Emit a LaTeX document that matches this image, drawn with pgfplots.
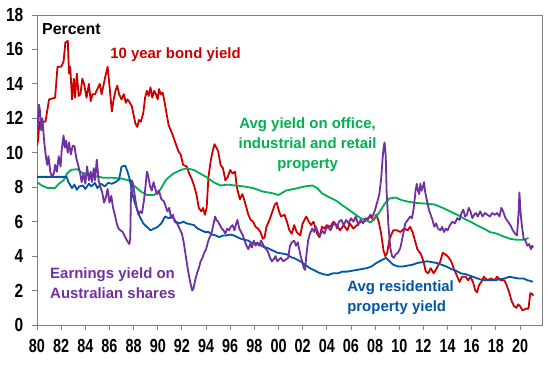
\documentclass[border=0pt]{standalone}
\usepackage{pgfplots}
\pgfplotsset{compat=1.18}
\usepackage{fontspec}
\setmainfont{Liberation Sans}
\definecolor{bondred}{RGB}{204,0,0}
\definecolor{propgreen}{RGB}{0,176,80}
\definecolor{sharepurple}{RGB}{112,48,160}
\definecolor{resblue}{RGB}{0,86,164}
\begin{document}
\begin{tikzpicture}
\begin{axis}[
  scale only axis, width=505bp, height=310bp,
  xmin=1980, xmax=2021.82, ymin=0, ymax=18,
  /pgf/number format/assume math mode=true,
  xtick={1980,1982,...,2020},
  xticklabels={80,82,84,86,88,90,92,94,96,98,00,02,04,06,08,10,12,14,16,18,20},
  ytick={0,2,4,6,8,10,12,14,16,18},
  tick pos=left, tick align=outside, major tick length=5bp,
  axis line style={gray, line width=0.9bp},
  tick style={gray, line width=0.9bp},
  xticklabel style={font=\fontsize{19}{19}\selectfont\bfseries, xscale=0.76, yshift=-6bp},
  yticklabel style={font=\fontsize{19}{19}\selectfont\bfseries, xscale=0.82, xshift=-7bp},
  every axis plot/.append style={line width=1.8bp, line join=round},
  clip=true,
]
% 10 year bond yield
\addplot[bondred] coordinates {
(1980.0,10.4)(1980.1,10.8)(1980.2,11.8)(1980.7,11.8)(1981.0,13.1)(1981.5,13.2)(1981.7,15.0)(1982.0,15.0)
(1982.2,15.3)(1982.35,16.4)(1982.55,16.5)(1982.65,14.6)(1982.75,15.0)(1982.9,13.1)(1983.05,14.3)(1983.15,13.2)
(1983.3,14.6)(1983.45,13.3)(1983.6,13.4)(1983.75,14.3)(1983.9,14.0)(1984.1,13.2)(1984.3,14.0)(1984.45,13.0)
(1984.6,13.4)(1984.8,13.4)(1985.0,13.7)(1985.2,14.0)(1985.35,13.4)(1985.5,13.9)(1985.65,14.4)(1985.85,15.0)
(1986.0,13.9)(1986.2,12.4)(1986.35,13.1)(1986.5,13.6)(1986.65,13.9)(1986.8,13.4)(1987.0,13.1)(1987.2,13.4)
(1987.35,12.9)(1987.5,13.1)(1987.7,12.9)(1987.85,12.7)(1988.0,12.2)(1988.15,11.7)(1988.3,11.5)(1988.45,11.9)
(1988.6,11.8)(1988.8,12.3)(1988.95,13.2)(1989.1,13.6)(1989.25,13.3)(1989.4,13.8)(1989.55,13.2)(1989.7,13.6)
(1989.85,13.4)(1990.0,13.1)(1990.1,13.7)(1990.25,13.4)(1990.4,13.5)(1990.55,13.0)(1990.7,12.4)(1990.9,11.6)
(1991.2,11.1)(1991.4,10.7)(1991.7,10.1)(1991.9,9.9)(1992.1,9.3)(1992.4,9.2)(1992.6,8.8)(1992.8,8.5)
(1993.0,8.1)(1993.2,7.6)(1993.4,6.8)(1993.6,6.6)(1993.75,6.8)(1993.9,6.4)(1994.05,6.8)(1994.2,8.6)
(1994.4,9.6)(1994.55,10.1)(1994.7,10.5)(1994.85,10.3)(1995.0,10.1)(1995.2,9.3)(1995.4,9.1)(1995.6,8.4)
(1995.8,8.6)(1996.0,9.0)(1996.2,8.8)(1996.4,8.9)(1996.55,8.0)(1996.8,7.3)(1997.0,7.6)(1997.15,7.3)
(1997.35,6.8)(1997.5,6.4)(1997.7,6.1)(1997.9,6.0)(1998.1,5.7)(1998.3,5.6)(1998.5,5.4)(1998.7,5.0)
(1998.85,5.1)(1999.0,5.7)(1999.25,6.1)(1999.5,6.6)(1999.7,7.0)(1999.85,7.1)(2000.0,6.7)(2000.2,6.3)
(2000.5,6.4)(2000.7,6.0)(2000.9,5.5)(2001.1,5.3)(2001.3,5.8)(2001.5,5.4)(2001.8,5.2)(2002.0,5.9)
(2002.3,6.3)(2002.5,6.0)(2002.7,5.8)(2002.9,6.0)(2003.2,5.3)(2003.4,5.1)(2003.6,5.7)(2003.8,5.6)
(2004.0,5.8)(2004.3,5.7)(2004.55,6.0)(2004.8,5.8)(2005.1,5.5)(2005.4,5.8)(2005.7,5.5)(2005.9,5.9)
(2006.2,5.6)(2006.5,5.8)(2006.8,6.0)(2007.1,6.0)(2007.4,6.2)(2007.6,6.3)(2007.9,6.1)(2008.1,6.4)
(2008.3,6.0)(2008.5,5.3)(2008.7,4.3)(2008.85,4.0)(2009.0,4.2)(2009.2,5.0)(2009.5,5.5)(2009.8,5.5)
(2010.1,5.4)(2010.4,5.6)(2010.7,5.5)(2010.9,5.7)(2011.1,5.4)(2011.3,4.9)(2011.5,4.4)(2011.8,4.1)
(2012.0,3.7)(2012.2,3.1)(2012.4,3.0)(2012.6,3.3)(2012.85,3.0)(2013.1,3.3)(2013.4,3.7)(2013.6,4.2)
(2013.8,4.1)(2014.0,4.0)(2014.3,3.7)(2014.5,3.3)(2014.75,2.9)(2015.0,2.5)(2015.2,2.8)(2015.5,2.8)
(2015.7,2.6)(2015.9,2.8)(2016.1,2.5)(2016.3,2.0)(2016.45,1.9)(2016.6,2.3)(2016.8,2.5)(2017.0,2.8)
(2017.3,2.6)(2017.6,2.7)(2017.9,2.6)(2018.1,2.8)(2018.4,2.6)(2018.7,2.6)(2018.9,2.3)(2019.1,1.9)
(2019.3,1.4)(2019.5,1.1)(2019.7,1.0)(2019.85,1.2)(2020.0,1.1)(2020.2,0.85)(2020.5,0.95)(2020.7,0.95)
(2020.85,1.85)(2021.0,1.8)(2021.1,1.7)
};
% Avg yield on office, industrial and retail property
\addplot[propgreen] coordinates {
(1980.0,8.3)(1980.4,8.1)(1980.9,7.95)(1981.5,7.95)(1981.8,8.2)(1982.2,8.4)(1982.5,8.8)(1982.8,9.0)
(1983.3,9.05)(1983.7,8.85)(1984.2,8.75)(1984.8,8.65)(1985.5,8.55)(1986.2,8.55)(1987.0,8.5)(1987.6,8.4)
(1988.1,8.05)(1988.6,7.75)(1989.1,7.55)(1989.7,7.55)(1990.2,7.85)(1990.7,8.45)(1991.3,8.8)(1991.9,9.0)
(1992.4,9.1)(1993.0,9.0)(1993.5,8.8)(1994.0,8.6)(1994.6,8.3)(1995.2,8.1)(1995.8,8.15)(1996.4,8.1)
(1997.1,8.05)(1997.9,7.95)(1998.7,7.75)(1999.5,7.65)(2000.0,7.55)(2000.6,7.8)(2001.6,7.95)(2002.2,8.05)
(2002.8,8.1)(2003.2,7.95)(2003.6,7.65)(2004.1,7.45)(2004.7,7.25)(2005.2,7.0)(2005.8,6.7)(2006.4,6.4)
(2006.8,6.2)(2007.2,6.1)(2007.6,5.95)(2008.0,6.2)(2008.4,6.6)(2008.8,7.05)(2009.2,7.35)(2009.7,7.4)
(2010.2,7.25)(2010.8,7.15)(2011.5,7.08)(2012.2,7.05)(2012.9,7.0)(2013.6,6.8)(2014.2,6.6)(2014.8,6.4)
(2015.3,6.2)(2015.9,6.0)(2016.4,5.8)(2017.0,5.6)(2017.5,5.4)(2018.1,5.3)(2018.6,5.15)(2019.2,5.0)
(2019.7,4.95)(2020.3,4.95)(2020.7,5.05)
};
% Avg residential property yield
\addplot[resblue] coordinates {
(1980.0,8.6)(1982.45,8.6)(1982.6,8.3)(1982.9,7.95)(1983.1,8.15)(1983.3,7.85)(1983.5,8.05)(1983.8,8.1)
(1984.0,7.9)(1984.3,8.2)(1984.5,8.05)(1984.8,8.25)(1985.0,7.95)(1985.3,8.2)(1985.6,8.05)(1985.9,8.25)
(1986.2,8.2)(1986.5,8.3)(1986.8,8.45)(1987.0,9.2)(1987.3,9.25)(1987.5,8.9)(1987.7,8.4)(1987.9,7.6)
(1988.1,7.1)(1988.3,6.7)(1988.5,6.3)(1988.8,5.9)(1989.1,5.7)(1989.4,5.5)(1989.7,5.6)(1990.0,5.7)
(1990.3,5.9)(1990.6,6.3)(1990.9,6.2)(1991.2,6.3)(1991.5,6.0)(1991.8,5.9)(1992.1,6.0)(1992.4,5.9)
(1992.7,5.85)(1993.0,5.8)(1993.3,5.6)(1993.6,5.5)(1993.9,5.4)(1994.2,5.4)(1994.5,5.25)(1994.8,5.2)
(1995.1,5.1)(1995.4,5.2)(1995.7,5.2)(1996.0,5.25)(1996.3,5.2)(1996.6,5.1)(1996.9,5.0)(1997.2,4.95)
(1997.5,4.9)(1997.8,4.75)(1998.1,4.75)(1998.4,4.7)(1998.7,4.55)(1999.0,4.5)(1999.3,4.4)(1999.6,4.3)
(1999.9,4.2)(2000.3,4.15)(2000.7,4.1)(2001.0,3.95)(2001.4,3.85)(2001.8,3.7)(2002.2,3.5)(2002.6,3.3)
(2002.9,3.2)(2003.3,3.05)(2003.7,2.95)(2004.1,2.9)(2004.5,3.0)(2004.9,3.0)(2005.3,3.1)(2005.7,3.1)
(2006.1,3.15)(2006.5,3.2)(2006.9,3.25)(2007.3,3.3)(2007.7,3.4)(2008.1,3.6)(2008.5,3.75)(2008.9,3.9)
(2009.2,3.7)(2009.5,3.5)(2009.9,3.4)(2010.3,3.4)(2010.7,3.45)(2011.1,3.5)(2011.5,3.6)(2011.9,3.65)
(2012.3,3.7)(2012.7,3.65)(2013.1,3.6)(2013.5,3.5)(2013.9,3.4)(2014.3,3.25)(2014.7,3.15)(2015.1,3.0)
(2015.5,2.95)(2015.9,2.85)(2016.3,2.75)(2016.7,2.65)(2017.1,2.6)(2017.5,2.6)(2017.9,2.6)(2018.3,2.65)
(2018.7,2.7)(2019.1,2.8)(2019.5,2.75)(2019.9,2.7)(2020.3,2.7)(2020.6,2.6)(2020.9,2.55)(2021.05,2.5)
};
% Earnings yield on Australian shares
\addplot[sharepurple] coordinates {
(1980.0,11.0)(1980.1,12.0)(1980.17,12.8)(1980.25,12.4)(1980.35,11.3)(1980.45,12.0)(1980.6,10.6)(1980.75,9.7)
(1980.85,9.3)(1980.95,9.8)(1981.1,8.9)(1981.25,8.6)(1981.4,8.8)(1981.5,9.3)(1981.65,8.9)(1981.8,9.8)
(1981.95,9.2)(1982.05,10.2)(1982.2,11.0)(1982.3,10.3)(1982.4,10.7)(1982.55,10.0)(1982.65,10.6)(1982.8,9.9)
(1982.95,10.4)(1983.1,10.4)(1983.25,9.7)(1983.4,9.3)(1983.55,8.9)(1983.7,8.3)(1983.85,8.8)(1984.0,8.2)
(1984.15,9.2)(1984.3,8.4)(1984.45,8.9)(1984.55,8.3)(1984.7,9.1)(1984.8,8.4)(1984.95,9.6)(1985.1,8.4)
(1985.25,8.0)(1985.4,7.7)(1985.55,7.1)(1985.7,7.4)(1985.85,7.9)(1986.0,7.1)(1986.15,7.5)(1986.3,6.8)
(1986.45,6.4)(1986.6,5.9)(1986.75,5.6)(1986.9,5.5)(1987.1,5.4)(1987.3,5.1)(1987.5,4.85)(1987.65,4.7)
(1987.72,5.0)(1987.78,7.5)(1987.85,8.4)(1987.95,8.2)(1988.1,7.5)(1988.25,6.8)(1988.4,6.4)(1988.55,6.6)
(1988.7,6.5)(1988.85,7.2)(1988.95,7.8)(1989.1,8.9)(1989.2,8.7)(1989.35,8.1)(1989.5,7.8)(1989.65,8.3)
(1989.8,7.9)(1989.95,7.6)(1990.1,7.8)(1990.3,7.3)(1990.5,7.2)(1990.65,6.9)(1990.8,6.6)(1990.95,6.8)
(1991.1,6.2)(1991.25,6.4)(1991.4,6.0)(1991.6,5.9)(1991.8,5.6)(1992.0,5.3)(1992.15,4.8)(1992.3,4.1)
(1992.45,3.4)(1992.6,2.8)(1992.75,2.3)(1992.85,2.0)(1992.95,2.1)(1993.1,2.6)(1993.25,3.0)(1993.4,3.3)
(1993.55,3.7)(1993.7,3.9)(1993.85,4.2)(1994.0,4.4)(1994.15,4.8)(1994.3,5.1)(1994.45,5.3)(1994.6,5.8)
(1994.75,6.3)(1994.85,6.1)(1995.0,6.0)(1995.15,5.8)(1995.3,5.6)(1995.45,5.5)(1995.6,5.3)(1995.75,5.6)
(1995.9,5.5)(1996.05,5.7)(1996.2,5.8)(1996.35,5.5)(1996.5,5.9)(1996.6,6.1)(1996.75,5.6)(1996.9,5.4)
(1997.05,5.2)(1997.2,4.9)(1997.35,4.6)(1997.5,4.4)(1997.65,4.7)(1997.8,4.5)(1997.95,4.9)(1998.1,4.6)
(1998.25,4.8)(1998.4,4.6)(1998.55,4.9)(1998.7,4.7)(1998.85,4.5)(1999.0,4.4)(1999.15,4.2)(1999.3,3.9)
(1999.45,3.7)(1999.6,3.8)(1999.75,4.0)(1999.9,3.7)(2000.05,3.8)(2000.2,3.9)(2000.4,3.7)(2000.6,3.8)
(2000.8,3.9)(2000.95,4.6)(2001.1,4.8)(2001.3,4.9)(2001.45,4.6)(2001.6,4.8)(2001.8,4.1)(2001.95,3.7)
(2002.1,3.3)(2002.2,3.2)(2002.3,4.0)(2002.45,4.9)(2002.6,5.3)(2002.8,5.6)(2002.95,5.4)(2003.1,5.7)
(2003.3,5.3)(2003.45,5.2)(2003.6,5.5)(2003.8,5.3)(2003.95,5.6)(2004.1,5.7)(2004.3,5.5)(2004.5,5.8)
(2004.7,5.9)(2004.85,5.6)(2005.0,6.0)(2005.2,6.1)(2005.4,5.8)(2005.6,6.1)(2005.8,5.9)(2006.0,6.2)
(2006.2,6.0)(2006.4,6.3)(2006.6,5.8)(2006.8,6.1)(2007.0,5.9)(2007.2,6.2)(2007.4,6.1)(2007.6,6.4)
(2007.8,6.3)(2008.0,6.7)(2008.2,7.2)(2008.35,7.6)(2008.5,8.5)(2008.6,9.5)(2008.7,10.3)(2008.78,10.6)
(2008.88,9.8)(2008.95,7.8)(2009.1,5.8)(2009.25,4.5)(2009.4,4.0)(2009.55,3.9)(2009.7,4.1)(2009.9,4.2)
(2010.1,4.5)(2010.3,5.2)(2010.5,5.9)(2010.7,6.1)(2010.9,6.3)(2011.05,6.2)(2011.2,6.8)(2011.35,7.8)
(2011.45,8.2)(2011.55,7.8)(2011.65,7.6)(2011.75,8.2)(2011.85,7.8)(2011.95,8.0)(2012.05,8.3)(2012.15,7.7)
(2012.3,7.2)(2012.45,6.7)(2012.6,6.4)(2012.75,6.1)(2012.9,5.7)(2013.05,5.9)(2013.2,5.6)(2013.4,5.5)
(2013.55,5.7)(2013.7,5.4)(2013.85,5.6)(2014.0,5.5)(2014.2,5.8)(2014.4,6.0)(2014.6,5.9)(2014.8,6.2)
(2015.0,6.1)(2015.15,6.5)(2015.3,6.7)(2015.45,6.3)(2015.6,6.4)(2015.75,6.8)(2015.9,6.6)(2016.05,6.2)
(2016.2,6.4)(2016.35,6.5)(2016.5,6.3)(2016.7,6.6)(2016.9,6.3)(2017.1,6.5)(2017.3,6.4)(2017.5,6.3)
(2017.7,6.5)(2017.9,6.4)(2018.1,6.5)(2018.3,6.3)(2018.45,6.8)(2018.6,6.6)(2018.8,6.2)(2019.0,6.0)
(2019.2,5.8)(2019.4,5.5)(2019.6,5.3)(2019.75,5.2)(2019.88,6.5)(2019.95,7.7)(2020.05,6.5)(2020.15,5.8)
(2020.3,5.0)(2020.45,4.9)(2020.6,4.6)(2020.75,4.7)(2020.9,4.4)(2021.0,4.6)(2021.1,4.5)
};
\node[anchor=west, inner sep=0pt, font=\fontsize{16}{16}\selectfont\bfseries] at (axis cs:1980.41,17.19) {Percent};
\node[anchor=west, inner sep=0pt, text=bondred, font=\fontsize{15}{15}\selectfont\bfseries] at (axis cs:1986.05,15.68) {10 year bond yield};
\node[inner sep=0pt, align=center, text=propgreen, font=\fontsize{15}{20}\selectfont\bfseries] at (axis cs:2002.41,10.45) {Avg yield on office,\\industrial and retail\\property};
\node[anchor=west, inner sep=0pt, align=left, text=sharepurple, font=\fontsize{15}{20}\selectfont\bfseries] at (axis cs:1981.08,2.44) {Earnings yield on\\Australian shares};
\node[anchor=west, inner sep=0pt, align=left, text=resblue, font=\fontsize{15}{20}\selectfont\bfseries] at (axis cs:2005.68,1.57) {Avg residential\\property yield};
\end{axis}
\pgfresetboundingbox
\path[use as bounding box] ([shift={(-37bp,-41bp)}]current axis.south west) rectangle ([shift={(6bp,15bp)}]current axis.north east);
\end{tikzpicture}
\end{document}
